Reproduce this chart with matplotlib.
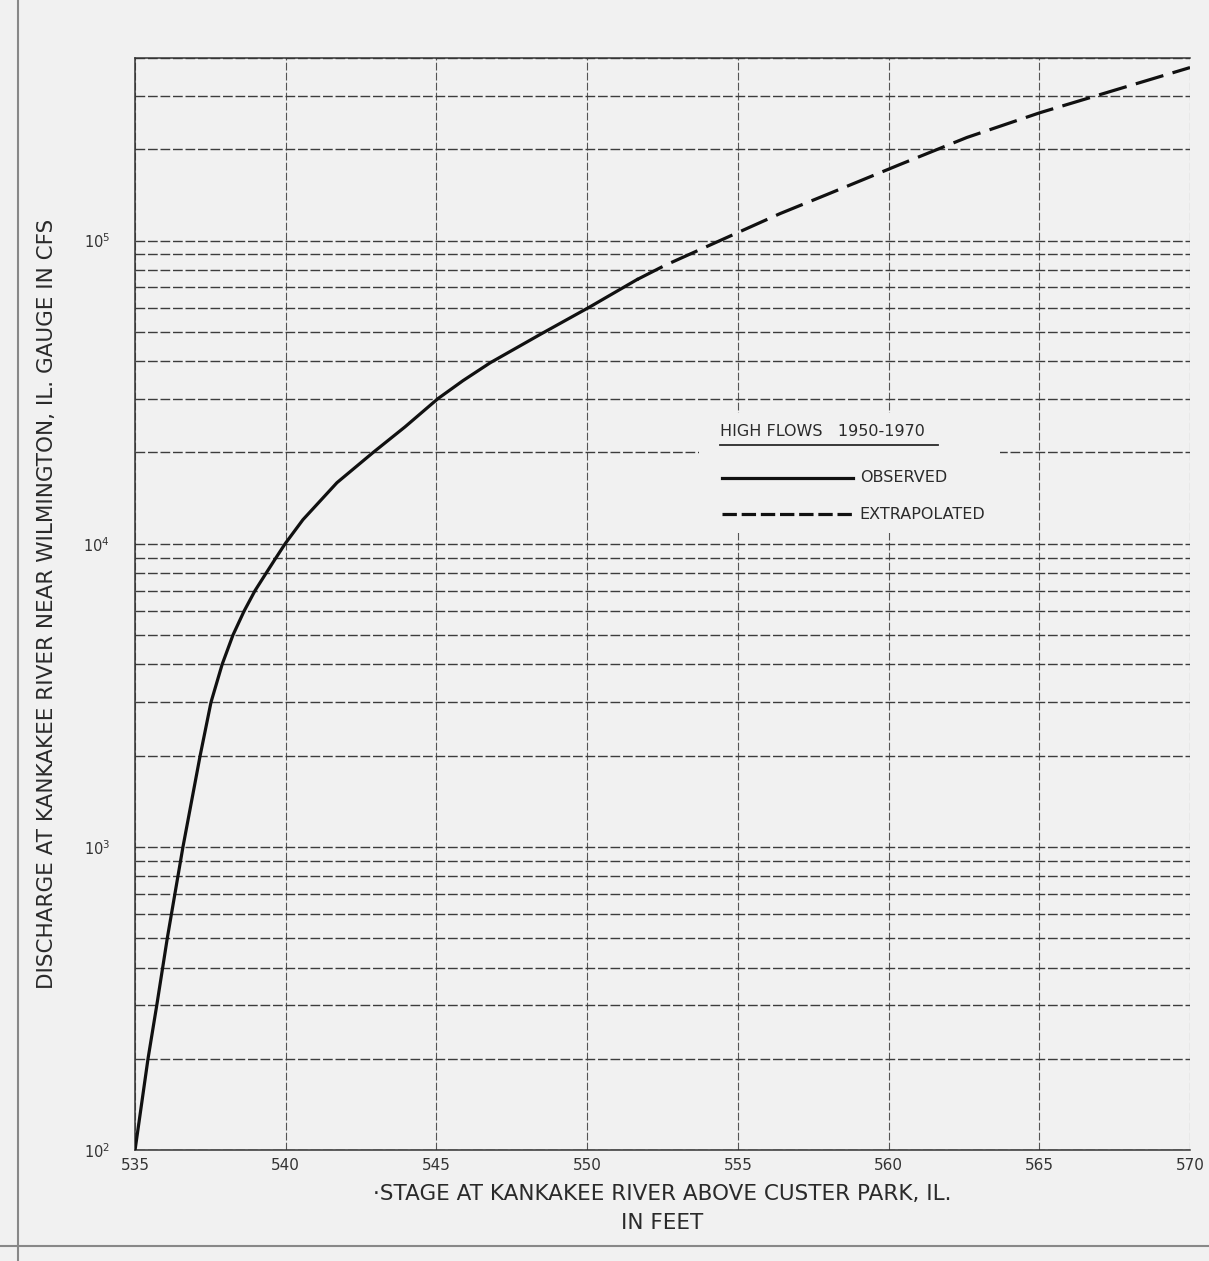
import matplotlib.pyplot as plt
from matplotlib.patches import Rectangle
from matplotlib.lines import Line2D
import numpy as np

# rating curve (stage in ft, discharge in cfs)
stage_obs = [535.0, 535.43, 535.72, 536.07, 536.59, 537.16, 537.52, 537.89,
             538.25, 538.62, 538.98, 539.35, 539.68, 539.98, 540.57, 541.70, 542.90,
             543.96, 545.05, 545.88, 546.78, 548.44, 550.10, 551.65]
flow_obs = [100, 200, 300, 500, 1000, 2000, 3000, 4000,
            5000, 6000, 7000, 8000, 9000, 10000, 12000, 15900, 20000,
            24300, 30100, 34500, 39500, 49000, 60500, 74300]

stage_ext = [551.65, 552.58, 554.41, 556.40, 557.96, 560.38, 562.60, 565.02, 567.58, 570.0]
flow_ext = [74300, 82800, 100000, 122700, 141900, 178200, 218800, 264000, 315000, 372000]

xticks = [535, 540, 545, 550, 555, 560, 565, 570]

bg = '#f1f1f1'
ink = '#2a2a2a'
plt.rcParams['font.family'] = 'DejaVu Sans'

fig = plt.figure(figsize=(12.09, 12.61), dpi=100, facecolor=bg)
ax = fig.add_axes([0.1117, 0.088, 0.8726, 0.866])
ax.set_facecolor(bg)

ax.set_yscale('log')
ax.set_xlim(535, 570)
ax.set_ylim(100, 4e5)
ax.set_xticks(xticks)
ax.set_xticklabels([str(t) for t in xticks], fontsize=11, color='#333333')

ax.grid(True, which='both', axis='y', color='#3c3c3c', lw=1.0, ls=(0, (7, 2)))
ax.grid(True, which='major', axis='x', color='#555555', lw=0.8, ls=(0, (7, 2)))
ax.tick_params(axis='both', which='both', length=0)
ax.tick_params(axis='y', labelsize=10.5, pad=18, labelcolor='#333333')
ax.tick_params(axis='x', pad=6)
for s in ax.spines.values():
    s.set_color('#333333')
    s.set_linewidth(1.1)
ax.spines['right'].set_visible(False)

ax.plot(stage_obs, flow_obs, color='#111111', lw=2.3, zorder=3)
ax.plot(stage_ext, flow_ext, color='#111111', lw=2.3, dashes=(9, 3), zorder=3)

# legend block drawn by hand
ax.add_patch(Rectangle((0.535, 0.565), 0.285, 0.11, transform=ax.transAxes,
                       facecolor=bg, edgecolor='none', zorder=2))
ax.text(0.5545, 0.651, 'HIGH FLOWS   1950-1970', transform=ax.transAxes,
        fontsize=11.5, color=ink, va='bottom', zorder=4)
ax.plot([0.5545, 0.761], [0.646, 0.646], transform=ax.transAxes, color=ink, lw=1.3, zorder=4)
ax.plot([0.5564, 0.6806], [0.6154, 0.6154], transform=ax.transAxes, color='#111111', lw=2.3, zorder=4)
ax.text(0.687, 0.6154, 'OBSERVED', transform=ax.transAxes, fontsize=11.5,
        color=ink, va='center', zorder=4)
ax.plot([0.5564, 0.6806], [0.5824, 0.5824], transform=ax.transAxes, color='#111111',
        lw=2.3, dashes=(4.5, 1.5), zorder=4)
ax.text(0.687, 0.5824, 'EXTRAPOLATED', transform=ax.transAxes, fontsize=11.5,
        color=ink, va='center', zorder=4)

ax.set_ylabel('DISCHARGE AT KANKAKEE RIVER NEAR WILMINGTON, IL. GAUGE IN CFS',
              fontsize=15.5, color=ink, labelpad=19)
ax.set_xlabel('·STAGE AT KANKAKEE RIVER ABOVE CUSTER PARK, IL.\nIN FEET',
              fontsize=15.5, color=ink, labelpad=8, linespacing=1.55)

# scanned page edges
fig.add_artist(Line2D([0.015, 0.015], [0.0, 1.0], color='#888888', lw=1.5))
fig.add_artist(Line2D([0.0, 1.0], [0.012, 0.012], color='#888888', lw=1.5))

fig.savefig('out.png', dpi=100, facecolor=bg)
